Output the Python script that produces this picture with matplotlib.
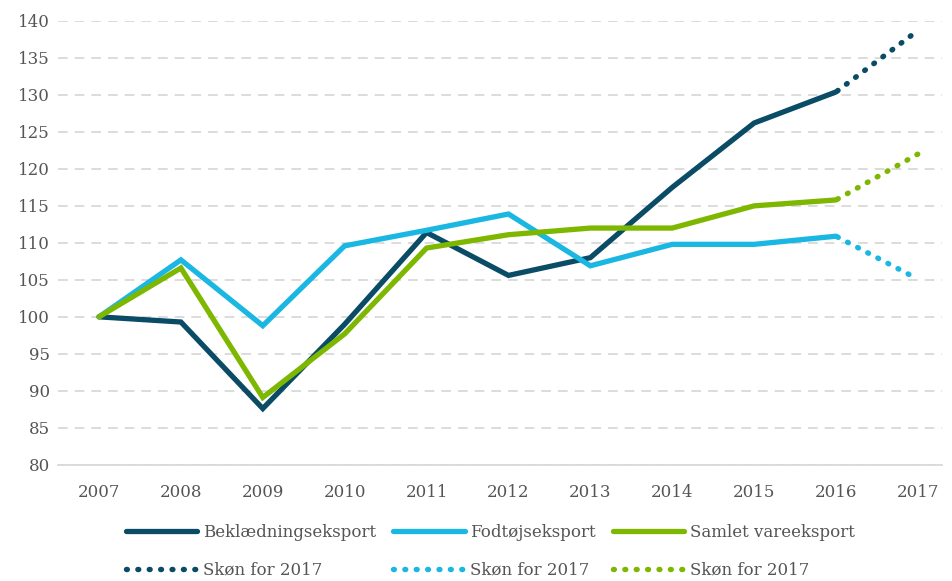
import matplotlib.pyplot as plt
from matplotlib.lines import Line2D

years = ['2007', '2008', '2009', '2010', '2011', '2012', '2013', '2014', '2015', '2016', '2017']
beklaedning = [100, 99.3, 87.6, 99.0, 111.4, 105.6, 108.0, 117.5, 126.2, 130.4]
fodtoej = [100, 107.7, 98.8, 109.6, 111.7, 113.9, 106.9, 109.8, 109.8, 110.9]
samlet = [100, 106.6, 89.1, 97.7, 109.3, 111.1, 112.0, 112.0, 115.0, 115.8]
# estimate for 2017 (from 2016)
skoen_bekl = [130.4, 138.7]
skoen_fod = [110.9, 105.1]
skoen_saml = [115.8, 122.0]

c_dark = '#0a4b66'
c_light = '#1bb7e3'
c_green = '#7db700'

plt.rcParams['font.family'] = ['DejaVu Serif']
plt.rcParams['lines.scale_dashes'] = False
fig = plt.figure(figsize=(9.52, 5.81), dpi=100)
ax = fig.add_axes([0.061, 0.2, 0.929, 0.764])

x = list(range(len(beklaedning)))
xs = [9, 10]
lw = 3.8
dlw = 3.9
for vals, est, col in [(beklaedning, skoen_bekl, c_dark),
                       (fodtoej, skoen_fod, c_light),
                       (samlet, skoen_saml, c_green)]:
    ax.plot(x, vals, color=col, lw=lw, solid_capstyle='round', solid_joinstyle='miter', zorder=3)
    ax.plot(xs, est, color=col, lw=dlw, linestyle=(7.0, (0.6, 7.6)),
            dash_capstyle='round', zorder=3)

ax.set_ylim(80, 140)
ax.set_yticks(range(80, 141, 5))
ax.set_xlim(-0.5, 10.3)
ax.set_xticks(range(len(years)))
ax.set_xticklabels(years)
ax.tick_params(length=0, labelsize=12, colors='#555555')
ax.tick_params(axis='x', pad=14)
ax.tick_params(axis='y', pad=6)
ax.grid(axis='y', color='#d9d9d9', linestyle=(0, (7, 5)), lw=1.3)
for s in ['top', 'right', 'left']:
    ax.spines[s].set_visible(False)
ax.spines['bottom'].set_color('#d9d9d9')
ax.spines['bottom'].set_linewidth(1.3)
ax.set_axisbelow(True)

def solid(c):
    return Line2D([], [], color=c, lw=lw, solid_capstyle='round')

def dotted(c):
    return Line2D([], [], color=c, lw=dlw, linestyle=(0, (0.6, 7.6)), dash_capstyle='round')

handles = [solid(c_dark), dotted(c_dark), solid(c_light), dotted(c_light), solid(c_green), dotted(c_green)]
labels = ['Beklædningseksport', 'Skøn for 2017', 'Fodtøjseksport', 'Skøn for 2017',
          'Samlet vareeksport', 'Skøn for 2017']
leg = fig.legend(handles, labels, ncol=3, loc='lower center', bbox_to_anchor=(0.515, -0.022),
                 frameon=False, fontsize=12, handlelength=4.3, handletextpad=0.35,
                 columnspacing=1.0, labelspacing=1.25)
for t in leg.get_texts():
    t.set_color('#555555')

fig.savefig('out.png', dpi=100)
